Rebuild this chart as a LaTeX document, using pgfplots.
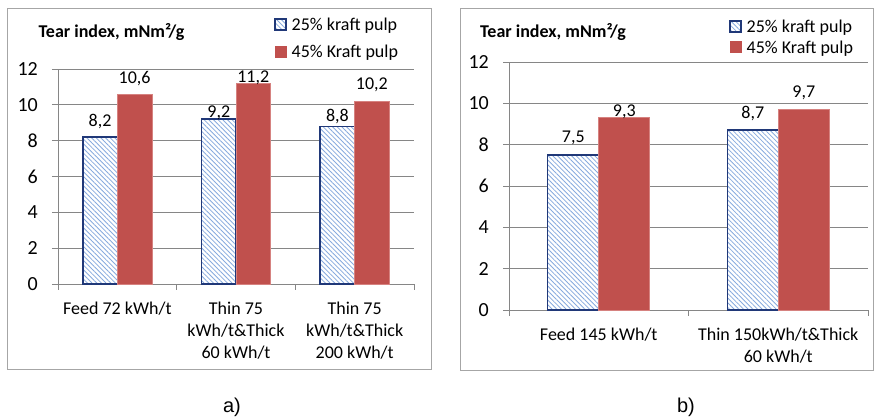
\documentclass[border=0pt]{standalone}
\usepackage{fontspec}
\setmainfont{Carlito}
\newfontfamily\arialfont{Liberation Sans}
\usepackage{pgfplots}
\pgfplotsset{compat=1.18}
\usetikzlibrary{patterns.meta}

\definecolor{barred}{RGB}{192,80,77}
\definecolor{redline}{RGB}{214,130,128}
\definecolor{navy}{RGB}{32,56,120}
\definecolor{hatch}{RGB}{135,170,222}
\definecolor{gridgray}{RGB}{134,134,134}
\definecolor{framegray}{RGB}{166,166,166}

\pgfplotsset{
  mybar/.style={
    ybar=0pt, scale only axis, ymin=0, ymax=12, ytick={0,2,...,12},
    axis lines*=left, axis line style={draw=gridgray, line width=0.8pt},
    ymajorgrids, grid style={draw=gridgray, line width=0.8pt},
    tick align=outside, major tick length=6pt, tick style={draw=gridgray, line width=0.8pt},
    /pgf/number format/assume math mode=true,
    yticklabel style={font=\fontsize{20}{24}\selectfont, anchor=east, inner sep=0pt, xshift=-14pt},
    xticklabels={,,,},
    xticklabel style={font=\fontsize{18}{22}\selectfont, align=center, anchor=north, inner sep=0pt, yshift=-12pt},
    extra x tick style={tick style={draw=none}},
    nodes near coords={\pgfmathprintnumber[fixed,fixed zerofill,precision=1,use comma]{\pgfplotspointmeta}},
    visualization depends on={\thisrow{off}\as\labeloff},
    nodes near coords style={font=\fontsize{18}{22}\selectfont, anchor=center, inner sep=0pt, yshift=\labeloff pt},
    legend style={draw=none, fill=none, inner sep=0pt, font=\fontsize{18}{22}\selectfont, anchor=north west, legend cell align=left,
      /tikz/every odd column/.append style={column sep=3pt}},
    clip=false,
  },
  s25/.style={draw=navy, line width=1.4pt, fill=none,
    preaction={fill=white},
    preaction={pattern={Lines[angle=-45,distance=3.3pt,line width=0.8pt]}, pattern color=hatch},
    legend image code/.code={
      \fill[white] (0pt,-5pt) rectangle (11pt,6pt);
      \fill[pattern={Lines[angle=-45,distance=3.3pt,line width=0.8pt]}, pattern color=hatch] (0pt,-5pt) rectangle (11pt,6pt);
      \draw[navy, line width=1pt] (0pt,-5pt) rectangle (11pt,6pt);}},
  s45/.style={draw=redline, line width=0.6pt, fill=barred,
    legend image code/.code={\fill[barred] (0pt,-5pt) rectangle (11pt,6pt);}},
}

\begin{document}
\begin{tikzpicture}
\path (0pt,0pt) rectangle (874pt,418pt);
\draw[framegray, line width=0.8pt] (7pt,410pt) rectangle (431pt,49pt);
\draw[framegray, line width=0.8pt] (460pt,410pt) rectangle (873pt,48pt);
\node[font=\bfseries\fontsize{18}{22}\selectfont] at (111.5pt,386pt) {Tear index, mNm²/g};
\node[font=\bfseries\fontsize{18}{22}\selectfont] at (553pt,386pt) {Tear index, mNm²/g};
\node[font=\arialfont\fontsize{20}{24}\selectfont] at (232pt,11pt) {a)};
\node[font=\arialfont\fontsize{20}{24}\selectfont] at (686pt,11pt) {b)};

\begin{axis}[mybar, at={(58pt,134pt)}, anchor=south west, width=356pt, height=215pt,
  xmin=0, xmax=3, xtick={0,1,2,3}, bar width=34.5pt,
  extra x ticks={0.5,1.5,2.5},
  extra x tick labels={{Feed 72 kWh/t},{Thin 75\\kWh/t\&Thick\\60 kWh/t},{Thin 75\\kWh/t\&Thick\\200 kWh/t}},
  legend style={at={(0.607,1.2465)}, row sep=9pt}]
\addplot[s25] table[x=x,y=y] {
x y off
0.5 8.2 16
1.5 9.2 6
2.5 8.8 10
};
\addlegendentry{25\% kraft pulp}
\addplot[s45] table[x=x,y=y] {
x y off
0.5 10.6 16
1.5 11.2 6
2.5 10.2 16
};
\addlegendentry{45\% Kraft pulp}
\end{axis}

\begin{axis}[mybar, at={(509pt,108pt)}, anchor=south west, width=359pt, height=248pt,
  xmin=0, xmax=2, xtick={0,1,2}, xticklabels={,,}, bar width=51pt,
  extra x ticks={0.5,1.5},
  extra x tick labels={{Feed 145 kWh/t},{Thin 150kWh/t\&Thick\\60 kWh/t}},
  legend style={at={(0.613,1.179)}, row sep=3pt}]
\addplot[s25] table[x=x,y=y] {
x y off
0.5 7.5 17
1.5 8.7 17
};
\addlegendentry{25\% kraft pulp}
\addplot[s45] table[x=x,y=y] {
x y off
0.5 9.3 6
1.5 9.7 16.5
};
\addlegendentry{45\% Kraft pulp}
\end{axis}
\end{tikzpicture}
\end{document}
